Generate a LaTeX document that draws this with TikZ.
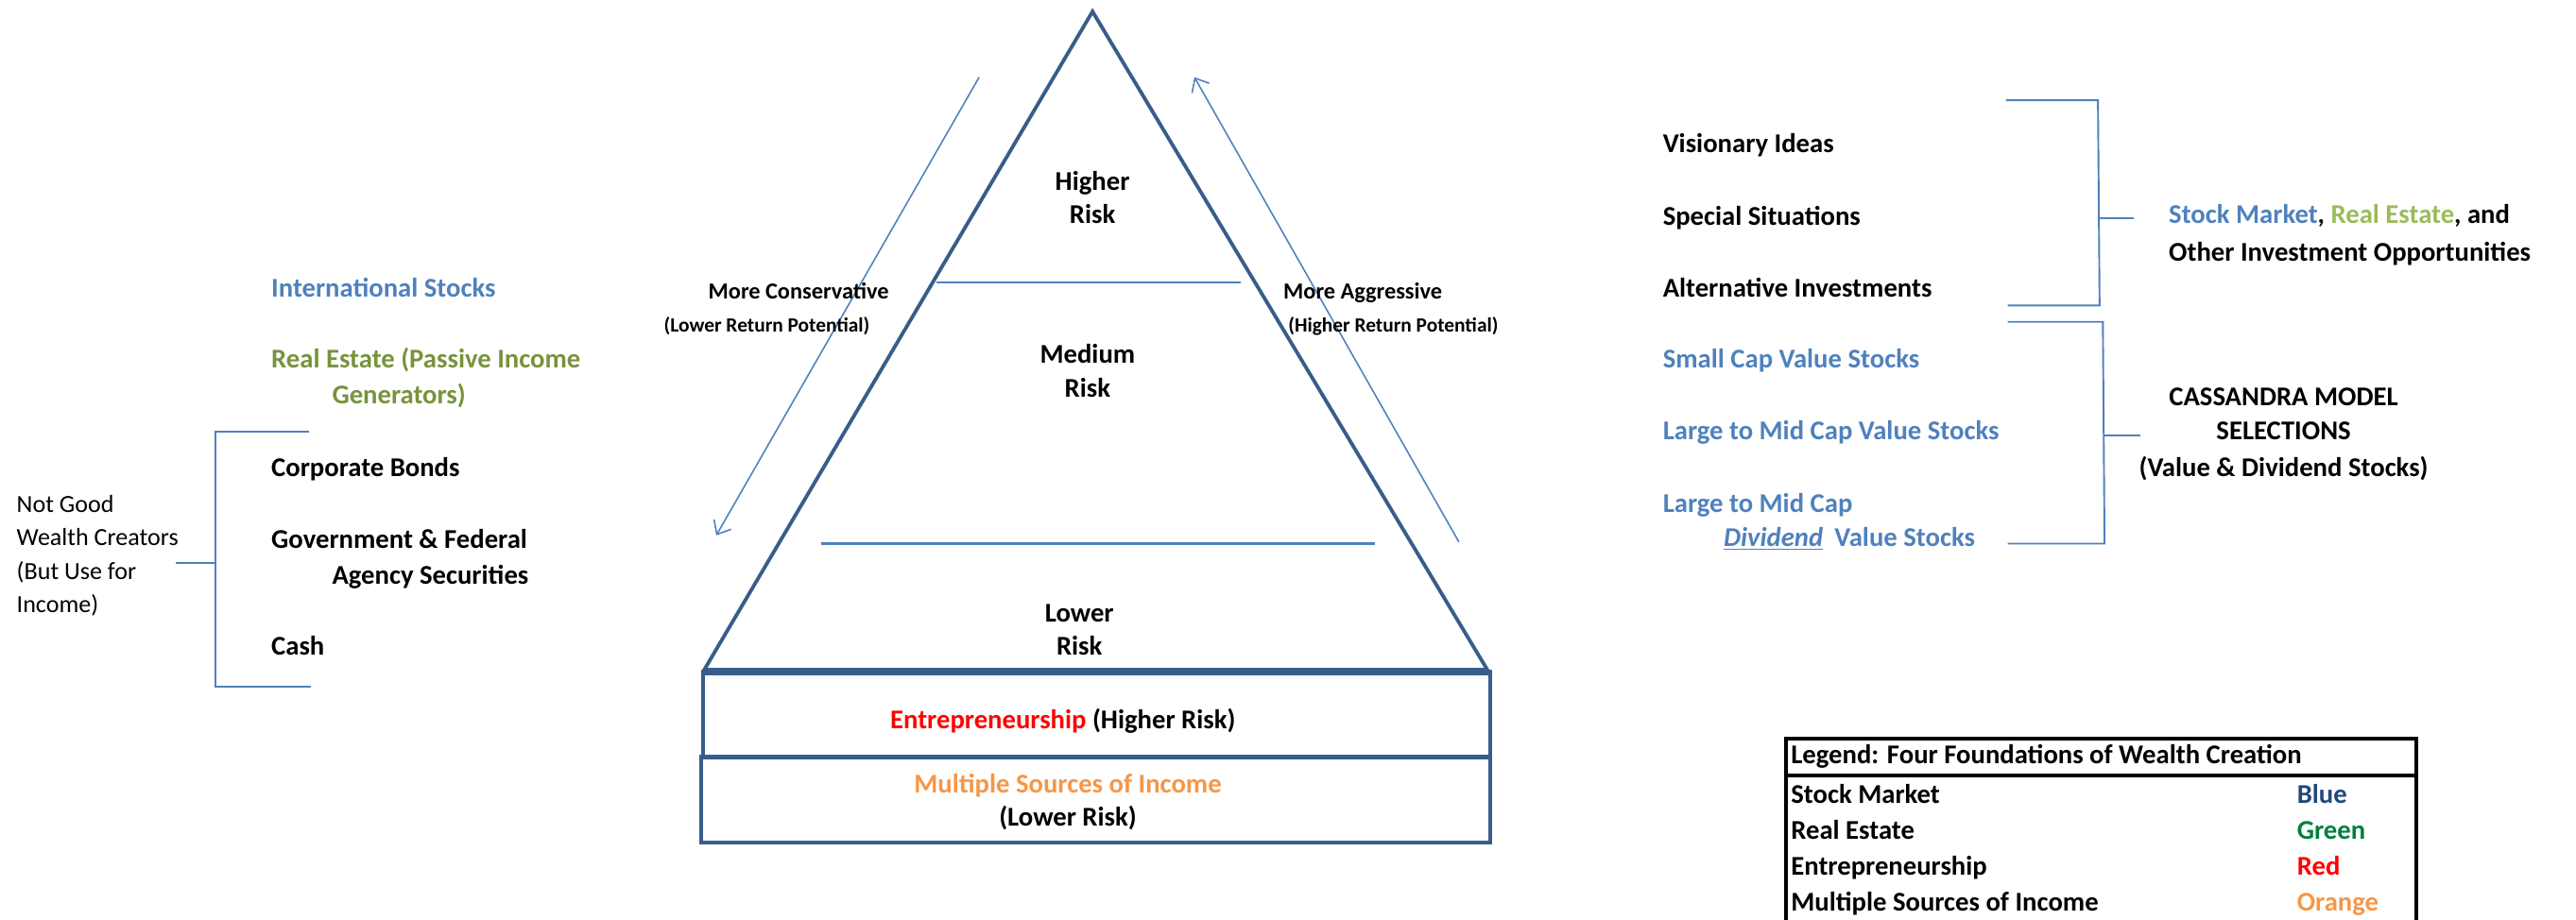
\documentclass[tikz,border=0pt]{standalone}
\usepackage{fontspec}
\setmainfont{Carlito}
\usetikzlibrary{arrows.meta}

\definecolor{pyr}{HTML}{385D8A}
\definecolor{accent}{HTML}{4F81BD}
\definecolor{olivegreen}{HTML}{77933C}
\definecolor{lightgreen}{HTML}{9BBB59}
\definecolor{orangeacc}{HTML}{F79646}
\definecolor{navy}{HTML}{1F497D}
\definecolor{darkgreen}{HTML}{00803C}

\tikzset{
  item/.style={anchor=base west, inner sep=0pt, font=\bfseries\fontsize{16.5}{20}\selectfont},
  citem/.style={anchor=base, inner sep=0pt, font=\bfseries\fontsize{16.5}{20}\selectfont},
  plain/.style={anchor=base west, inner sep=0pt, font=\fontsize{15}{20}\selectfont},
  side/.style={anchor=base west, inner sep=0pt, font=\bfseries\fontsize{14}{17}\selectfont},
  sidesmall/.style={anchor=base west, inner sep=0pt, font=\bfseries\fontsize{12.3}{15}\selectfont},
  legtext/.style={anchor=base west, inner sep=0pt, font=\bfseries\fontsize{16.5}{20}\selectfont},
  bracket/.style={draw=accent, line width=1.1pt},
  level/.style={draw=accent, line width=1.3pt},
  flow/.style={draw=accent, line width=0.9pt, -{Straight Barb[length=7pt,width=12pt,line width=0.9pt]}},
  pyramid/.style={draw=pyr, line width=2.2pt, line join=miter},
  slab/.style={draw=pyr, line width=2.4pt, minimum width=#1, minimum height=52pt, inner sep=0pt},
  legbox/.style={draw=black, line width=2.2pt},
}

\begin{document}
\begin{tikzpicture}[x=1pt,y=-1pt]
  \useasboundingbox (0,0) rectangle (1568,560);

  % ---------- pyramid ----------
  \coordinate (apex) at (665,7);
  \coordinate (bl) at (428,409);
  \coordinate (br) at (906,409);
  \draw[pyramid] (bl) -- (apex) -- (br);

  % level dividers
  \coordinate (l1a) at (570,172);
  \coordinate (l1b) at (755,172);
  \coordinate (l2a) at (500,331);
  \coordinate (l2b) at (837,331);
  \draw[level] (l1a) -- (l1b);
  \draw[level] (l2a) -- (l2b);

  \node[citem] (hi1) at (665,116) {Higher};
  \node[citem] (hi2) at (665,136) {Risk};
  \node[citem] (me1) at (662,221) {Medium};
  \node[citem] (me2) at (662,242) {Risk};
  \node[citem] (lo1) at (657,379) {Lower};
  \node[citem] (lo2) at (657,399) {Risk};

  % foundation slabs
  \node[slab=479pt] (ent) at (667.5,435) {};
  \node[slab=480pt] (msi) at (667,487) {};
  \draw[draw=pyr, line width=4.4pt] (bl) -- (br);

  \node[citem] (enttxt) at (647,444) {\textcolor{red}{Entrepreneurship} (Higher Risk)};
  \node[citem, text=orangeacc] (msi1) at (650,483) {Multiple Sources of Income};
  \node[citem] (msi2) at (650,503) {(Lower Risk)};

  % risk direction arrows
  \coordinate (cs) at (596,47);
  \coordinate (ce) at (436,326);
  \coordinate (as) at (888,330);
  \coordinate (ae) at (727,47);
  \draw[flow] (cs) -- (ce);
  \draw[flow] (as) -- (ae);

  \node[side] (cons1) at (431,182) {More Conservative};
  \node[sidesmall] (cons2) at (404,202) {(Lower Return Potential)};
  \node[side] (aggr1) at (781,182) {More Aggressive};
  \node[sidesmall] (aggr2) at (784,202) {(Higher Return Potential)};

  % ---------- left column ----------
  \node[item, text=accent] (intl) at (165,181) {International Stocks};
  \node[item, text=olivegreen] (re1) at (165,224) {Real Estate (Passive Income};
  \node[item, text=olivegreen] (re2) at (202,246) {Generators)};
  \node[item] (corp) at (165,290) {Corporate Bonds};
  \node[item] (gov1) at (165,334) {Government \& Federal};
  \node[item] (gov2) at (202,356) {Agency Securities};
  \node[item] (cash) at (165,399) {Cash};

  \node[plain] (ng1) at (10,312) {Not Good};
  \node[plain] (ng2) at (10,332) {Wealth Creators};
  \node[plain] (ng3) at (10,353) {(But Use for};
  \node[plain] (ng4) at (10,373) {Income)};

  \coordinate (lbt) at (188,263);
  \coordinate (lbtc) at (131,263);
  \coordinate (lbbc) at (131,418);
  \coordinate (lbb) at (189,418);
  \coordinate (lbm) at (131,343);
  \coordinate (lbk) at (107,343);
  \draw[bracket] (lbt) -- (lbtc) -- (lbbc) -- (lbb);
  \draw[bracket] (lbm) -- (lbk);

  % ---------- right column ----------
  \node[item] (vis) at (1012,93) {Visionary Ideas};
  \node[item] (spec) at (1012,137) {Special Situations};
  \node[item] (alt) at (1012,181) {Alternative Investments};
  \node[item, text=accent] (scv) at (1012,224) {Small Cap Value Stocks};
  \node[item, text=accent] (lmv) at (1012,268) {Large to Mid Cap Value Stocks};
  \node[item, text=accent] (lmd1) at (1012,312) {Large to Mid Cap};
  \node[item, text=accent] (lmd2) at (1049,333) {\underline{\itshape Dividend}\hspace{0.2em} Value Stocks};

  \coordinate (rb1t) at (1221,61);
  \coordinate (rb1tc) at (1277,61);
  \coordinate (rb1bc) at (1278,186);
  \coordinate (rb1b) at (1222,186);
  \coordinate (rb1m) at (1278,133);
  \coordinate (rb1k) at (1299,133);
  \draw[bracket] (rb1t) -- (rb1tc) -- (rb1bc) -- (rb1b);
  \draw[bracket] (rb1m) -- (rb1k);

  \coordinate (rb2t) at (1222,196);
  \coordinate (rb2tc) at (1280,196);
  \coordinate (rb2bc) at (1281,331);
  \coordinate (rb2b) at (1222,331);
  \coordinate (rb2m) at (1281,265);
  \coordinate (rb2k) at (1303,265);
  \draw[bracket] (rb2t) -- (rb2tc) -- (rb2bc) -- (rb2b);
  \draw[bracket] (rb2m) -- (rb2k);

  \node[item] (opp1) at (1320,136) {\textcolor{accent}{Stock Market}, \textcolor{lightgreen}{Real Estate}, and};
  \node[item] (opp2) at (1320,159) {Other Investment Opportunities};

  \node[citem] (cas1) at (1390,247) {CASSANDRA MODEL};
  \node[citem] (cas2) at (1390,268) {SELECTIONS};
  \node[citem] (cas3) at (1390,290) {(Value \& Dividend Stocks)};

  % ---------- legend ----------
  \coordinate (lgtl) at (1087,450);
  \coordinate (lgbr) at (1471,575);
  \coordinate (lgsl) at (1087,472);
  \coordinate (lgsr) at (1471,472);
  \draw[legbox] (lgtl) rectangle (lgbr);
  \draw[legbox] (lgsl) -- (lgsr);

  \node[legtext] (lghead) at (1090,465) {Legend: Four Foundations of Wealth Creation};
  \node[legtext] (lg1) at (1090,489) {Stock Market};
  \node[legtext] (lg2) at (1090,511) {Real Estate};
  \node[legtext] (lg3) at (1090,533) {Entrepreneurship};
  \node[legtext] (lg4) at (1090,555) {Multiple Sources of Income};
  \node[legtext, text=navy] (lc1) at (1398,489) {Blue};
  \node[legtext, text=darkgreen] (lc2) at (1398,511) {Green};
  \node[legtext, text=red] (lc3) at (1398,533) {Red};
  \node[legtext, text=orangeacc] (lc4) at (1398,555) {Orange};
\end{tikzpicture}
\end{document}
